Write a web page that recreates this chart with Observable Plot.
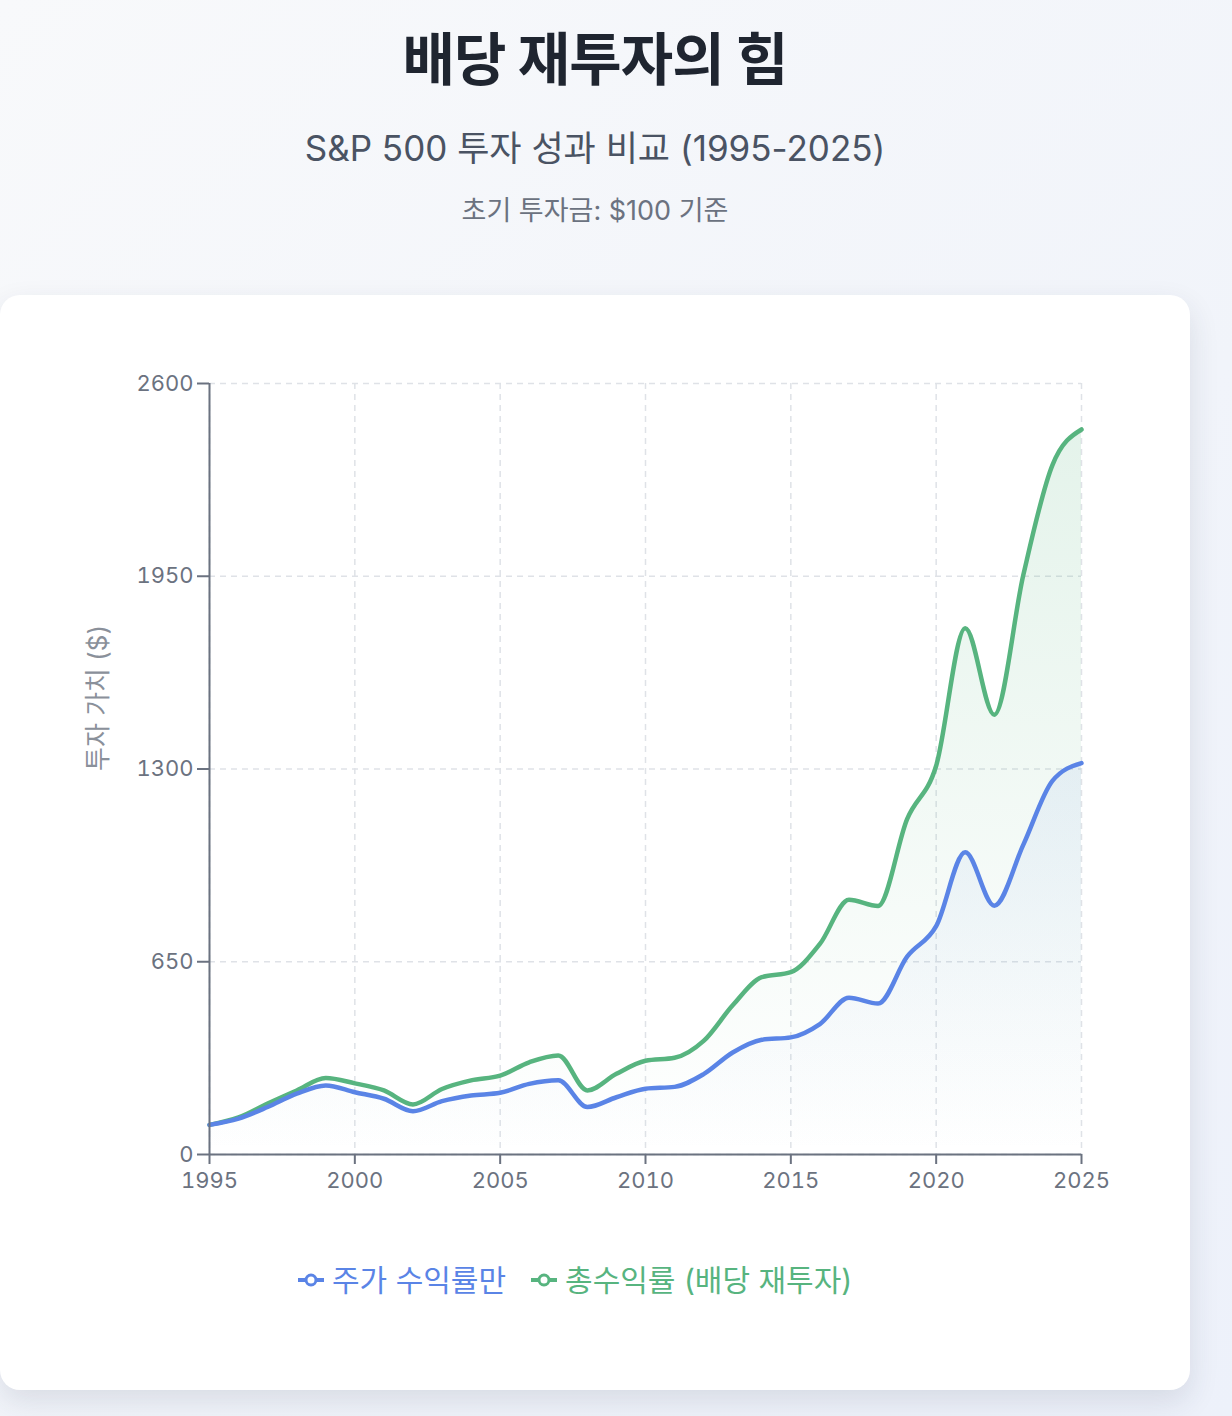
<!DOCTYPE html>
<html>
<head>
<meta charset="utf-8">
<script src="https://cdn.jsdelivr.net/npm/d3@7"></script>
<script src="https://cdn.jsdelivr.net/npm/@observablehq/plot@0.6"></script>
<style>
  html, body { margin:0; padding:0; }
  body {
    width:1232px; height:1416px; overflow:hidden; position:relative;
    background: linear-gradient(135deg, #f8f9fb 0%, #f1f4fa 60%, #edf1fa 100%);
    font-family: "Inter", "Noto Sans CJK KR", sans-serif;
  }
  .t { position:absolute; left:0; width:1190px; text-align:center; white-space:nowrap; }
  #title { top:26px; font-size:57px; line-height:68px; font-weight:700; color:#1f2530; letter-spacing:-1px; }
  #sub { top:127px; font-size:35px; line-height:42px; color:#4a5363; }
  #info { top:194px; font-size:27px; line-height:34px; color:#6b7280; }
  #card {
    position:absolute; left:0; top:295px; width:1190px; height:1095px;
    background:#fff; border-radius:20px;
    box-shadow: 0 12px 30px rgba(40,50,70,0.12);
  }
  #chart { position:absolute; left:0; top:0; }
  #legend {
    position:absolute; left:296px; top:964px; display:flex; gap:23px; align-items:center;
    font-size:30px; line-height:42px; white-space:nowrap;
  }
  .item { display:flex; align-items:center; gap:6px; }
</style>
</head>
<body>
<div class="t" id="title">배당 재투자의 힘</div>
<div class="t" id="sub">S&amp;P 500 투자 성과 비교 (1995-2025)</div>
<div class="t" id="info">초기 투자금: $100 기준</div>
<div id="card">
  <div id="chart"></div>
  <div id="legend"></div>
</div>
<script>
const years = [1995,1996,1997,1998,1999,2000,2001,2002,2003,2004,2005,2006,2007,2008,2009,2010,2011,2012,2013,2014,2015,2016,2017,2018,2019,2020,2021,2022,2023,2024,2025];
const priceOnly = [100,121,160,205,233,210,188,146,180,199,208,238,250,160,193,222,228,271,344,387,395,440,529,509,667,770,1019,839,1045,1260,1320];
const totalReturn = [100,125,172,216,258,240,216,169,221,250,266,311,334,216,272,316,326,383,503,598,615,710,859,838,1131,1311,1775,1483,1955,2325,2445];
const seriesNames = ["주가 수익률만", "총수익률 (배당 재투자)"];
const seriesColors = ["#5a84e6", "#57b47f"];
const xTicks = [1995,2000,2005,2010,2015,2020,2025];
const yTicks = [0,650,1300,1950,2600];
const yLabel = "투자 가치 ($)";

const data = years.map((y, i) => ({year: y, price: priceOnly[i], total: totalReturn[i]}));
const curve = "monotone-x";
const W = 1190, H = 920, mt = 88, mb = 61, ml = 209, mr = 109;

const defs = () => {
  const d = d3.create("svg:defs");
  [["gB", seriesColors[0]], ["gG", seriesColors[1]]].forEach(([id, c]) => {
    const g = d.append("linearGradient").attr("id", id)
      .attr("gradientUnits", "userSpaceOnUse")
      .attr("x1", 0).attr("x2", 0).attr("y1", mt).attr("y2", H - mb);
    g.append("stop").attr("offset", "0%").attr("stop-color", c).attr("stop-opacity", 0.17);
    g.append("stop").attr("offset", "100%").attr("stop-color", c).attr("stop-opacity", 0);
  });
  return d.node();
};

const chart = Plot.plot({
  width: W, height: H,
  marginTop: mt, marginBottom: mb, marginLeft: ml, marginRight: mr,
  style: {fontFamily: '"Inter", "Noto Sans CJK KR", sans-serif', fontSize: "22px", color: "#6b7280", background: "transparent", overflow: "visible"},
  x: {domain: [1995, 2025]},
  y: {domain: [0, 2600]},
  marks: [
    defs,
    Plot.gridX(xTicks, {stroke: "#dfe2e7", strokeOpacity: 1, strokeWidth: 1.5, strokeDasharray: "6,5"}),
    Plot.gridY(yTicks, {stroke: "#dfe2e7", strokeOpacity: 1, strokeWidth: 1.5, strokeDasharray: "6,5"}),
    Plot.areaY(data, {x: "year", y: "total", fill: "url(#gG)", curve}),
    Plot.areaY(data, {x: "year", y: "price", fill: "url(#gB)", curve}),
    Plot.lineY(data, {x: "year", y: "total", stroke: seriesColors[1], strokeWidth: 4.5, curve}),
    Plot.lineY(data, {x: "year", y: "price", stroke: seriesColors[0], strokeWidth: 4.5, curve}),
    Plot.ruleX([1995], {stroke: "#6b7280", strokeWidth: 2}),
    Plot.ruleY([0], {stroke: "#6b7280", strokeWidth: 2}),
    Plot.axisX({ticks: xTicks, tickFormat: d => String(d), tickSize: 10, tickPadding: 8, label: null, stroke: "#6b7280", strokeWidth: 2, fill: "#6b7280"}),
    Plot.axisY({ticks: yTicks, tickFormat: d => String(d), tickSize: 12, tickPadding: 4, label: null, stroke: "#6b7280", strokeWidth: 2, fill: "#6b7280"}),
    Plot.text([yLabel], {frameAnchor: "left", text: d => d, rotate: -90, dx: -111, dy: 2, fontSize: 26, fill: "#8a909a"})
  ]
});
document.getElementById("chart").appendChild(chart);

const legend = document.getElementById("legend");
seriesNames.forEach((n, i) => {
  const it = document.createElement("div");
  it.className = "item";
  it.style.color = seriesColors[i];
  it.innerHTML = `<svg width="30" height="20"><line x1="2" y1="10" x2="28" y2="10" stroke="${seriesColors[i]}" stroke-width="4"/><circle cx="15" cy="10" r="5" fill="#fff" stroke="${seriesColors[i]}" stroke-width="3"/></svg><span>${n}</span>`;
  legend.appendChild(it);
});
</script>
</body>
</html>
